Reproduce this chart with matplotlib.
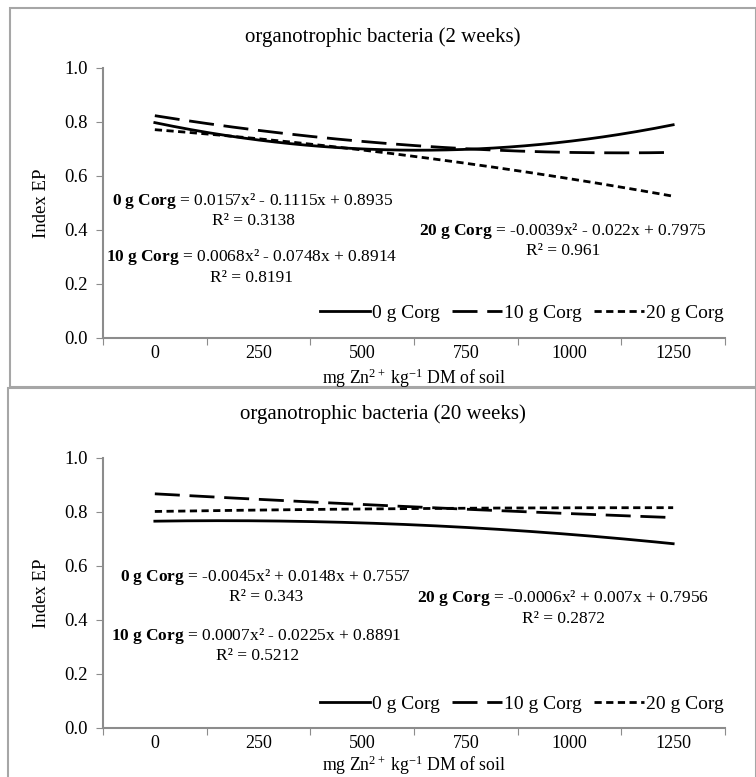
import numpy as np
import matplotlib
matplotlib.use("Agg")
import matplotlib.pyplot as plt
from matplotlib.patches import Rectangle

plt.rcParams['font.family'] = ['Liberation Serif', 'DejaVu Serif']
plt.rcParams['mathtext.fontset'] = 'custom'
plt.rcParams['mathtext.rm'] = 'Liberation Serif'
plt.rcParams['mathtext.it'] = 'Liberation Serif:italic'
plt.rcParams['mathtext.bf'] = 'Liberation Serif:bold'

categories = ["0", "250", "500", "750", "1000", "1250"]
series_names = ["0 g Corg", "10 g Corg", "20 g Corg"]

# trendline coefficients (a, b, c) for y = a x^2 + b x + c, x = category index 1..6
coef_2w_0 = [0.0157, -0.1115, 0.8935]
coef_2w_10 = [0.0068, -0.0748, 0.8914]
coef_2w_20 = [-0.0039, -0.022, 0.7975]
r2_2w = ["0.3138", "0.8191", "0.961"]

coef_20w_0 = [-0.0045, 0.0148, 0.7557]
coef_20w_10 = [0.0007, -0.0225, 0.8891]
coef_20w_20 = [-0.0006, 0.007, 0.7956]
r2_20w = ["0.343", "0.5212", "0.2872"]

titles = ["organotrophic bacteria (2 weeks)", "organotrophic bacteria (20 weeks)"]
yticks = [0.0, 0.2, 0.4, 0.6, 0.8, 1.0]

W, H = 756, 777
fig = plt.figure(figsize=(W / 100, H / 100), dpi=100)

styles = [dict(linestyle='-'), dict(linestyle=(0, (9, 3.5))), dict(linestyle=(0, (2.6, 1.6)))]
gray = '#8c8c8c'
fs_tick = 13.5
fs_leg = 14
fs_eq = 12.5
fs_title = 15
fs_xlab = 12.8


def fmt(v):
    return f"{abs(v):g}"


def eq(name, coef):
    a, b, c = coef
    sa = ("-" if a < 0 else "") + fmt(a)
    sb = ("- " if b < 0 else "+ ") + fmt(b)
    sc = ("- " if c < 0 else "+ ") + fmt(c)
    name_m = name.replace(" ", r"\ ")
    return r"$\mathbf{" + name_m + "}$ = " + sa + "x² " + sb + "x " + sc


def px(x0, y0, x1, y1):
    return [x0 / W, 1 - y1 / H, (x1 - x0) / W, (y1 - y0) / H]


panels = [
    dict(rect=px(103, 68, 725, 338), coefs=[coef_2w_0, coef_2w_10, coef_2w_20], r2=r2_2w,
         title=titles[0], title_y=37, xlab_y=378,
         eqpos=[(253, 201, 253, 221), (252, 257, 252, 278), (563, 231, 563, 251)],
         leg_y=313, border=(10, 8, 756, 387)),
    dict(rect=px(103, 458, 725, 728), coefs=[coef_20w_0, coef_20w_10, coef_20w_20], r2=r2_20w,
         title=titles[1], title_y=414, xlab_y=765,
         eqpos=[(265, 577, 266, 597), (256, 636, 258, 656), (563, 598, 563, 619)],
         leg_y=704, border=(8, 388, 756, 780)),
]

for p in panels:
    bx0, by0, bx1, by1 = p['border']
    fig.patches.append(Rectangle((bx0 / W, 1 - by1 / H), (bx1 - bx0) / W, (by1 - by0) / H,
                                 transform=fig.transFigure, fill=False, edgecolor='#a6a6a6',
                                 linewidth=1.5, zorder=0))
    ax = fig.add_axes(p['rect'])
    xs = np.linspace(1, 6, 200)
    handles = []
    for name, coef, st in zip(series_names, p['coefs'], styles):
        a, b, c = coef
        ys = a * xs ** 2 + b * xs + c
        h, = ax.plot(xs, ys, color='black', linewidth=2.0, label=name, **st)
        handles.append(h)
    ax.set_xlim(0.5, 6.5)
    ax.set_ylim(0, 1.0)
    ax.set_yticks(yticks)
    ax.set_yticklabels([f"{v:.1f}" for v in yticks], fontsize=fs_tick)
    ax.set_xticks(np.arange(0.5, 7, 1))
    ax.set_xticklabels([])
    ax.set_xticks(np.arange(1, 7), minor=True)
    ax.set_xticklabels(categories, minor=True, fontsize=13)
    ax.tick_params(axis='x', which='minor', length=0, pad=5)
    ax.tick_params(axis='x', which='major', length=5, color=gray, direction='out')
    ax.tick_params(axis='y', length=5, color=gray, direction='out', pad=6)
    for s in ['top', 'right']:
        ax.spines[s].set_visible(False)
    for s in ['left', 'bottom']:
        ax.spines[s].set_color(gray)
        ax.spines[s].set_linewidth(1.5)
    ax.set_ylabel("Index EP", fontsize=fs_tick, labelpad=10)
    fig.text(414 / W, 1 - p['xlab_y'] / H, r"mg Zn$^{2+}$ kg$^{-1}$ DM of soil",
             ha='center', va='center', fontsize=fs_xlab)
    fig.text(383 / W, 1 - p['title_y'] / H, p['title'], ha='center', va='center', fontsize=fs_title)
    for name, coef, r2, (ex, ey, rx, ry) in zip(series_names, p['coefs'], p['r2'], p['eqpos']):
        fig.text(ex / W, 1 - ey / H, eq(name, coef), ha='center', va='center', fontsize=fs_eq)
        fig.text(rx / W, 1 - ry / H, "R² = " + r2, ha='center', va='center', fontsize=fs_eq)
    leg = ax.legend(handles=handles, loc='center right',
                    bbox_to_anchor=(724 / W, 1 - p['leg_y'] / H),
                    bbox_transform=fig.transFigure,
                    ncol=3, frameon=False, fontsize=fs_leg, handlelength=2.6, handletextpad=0.1,
                    columnspacing=0.6, borderaxespad=0, borderpad=0)

fig.savefig("out.png", dpi=100)
